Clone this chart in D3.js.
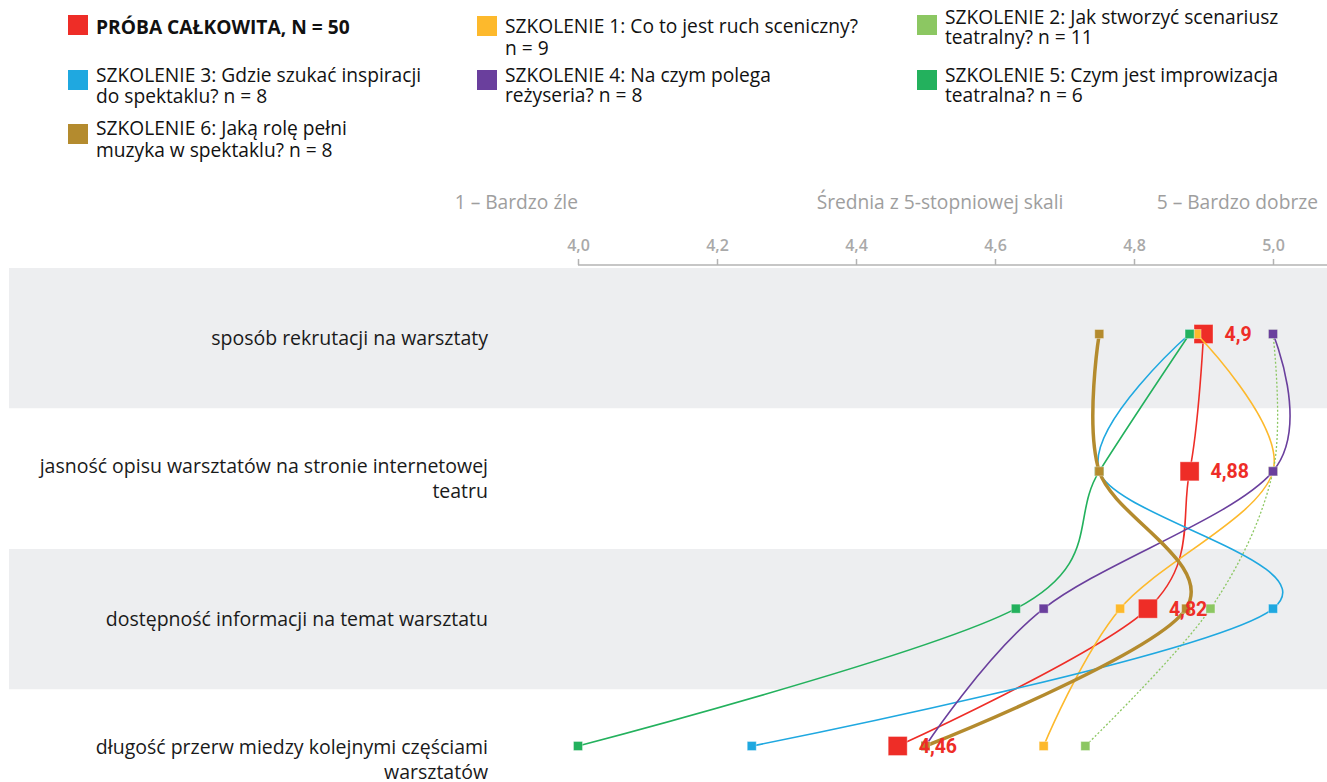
<!DOCTYPE html>
<html>
<head>
<meta charset="utf-8">
<script src="https://cdn.jsdelivr.net/npm/d3@7"></script>
<style>
  body { margin: 0; background: #fff; }
  svg { display: block; font-family: "Open Sans", sans-serif; }
</style>
</head>
<body>
<div id="chart"></div>
<script>
// rows of the chart (label lines kept as they are broken in the original)
var categories = [
  ["sposób rekrutacji na warsztaty"],
  ["jasność opisu warsztatów na stronie internetowej", "teatru"],
  ["dostępność informacji na temat warsztatu"],
  ["długość przerw miedzy kolejnymi częściami", "warsztatów"]
];

var seriesIds = ["total", "s1", "s2", "s3", "s4", "s5", "s6"];
var seriesLabels = [
  ["PRÓBA CAŁKOWITA, N = 50"],
  ["SZKOLENIE 1: Co to jest ruch sceniczny?", "n = 9"],
  ["SZKOLENIE 2: Jak stworzyć scenariusz", "teatralny? n = 11"],
  ["SZKOLENIE 3: Gdzie szukać inspiracji", "do spektaklu? n = 8"],
  ["SZKOLENIE 4: Na czym polega", "reżyseria? n = 8"],
  ["SZKOLENIE 5: Czym jest improwizacja", "teatralna? n = 6"],
  ["SZKOLENIE 6: Jaką rolę pełni", "muzyka w spektaklu? n = 8"]
];

var total = [4.9, 4.88, 4.82, 4.46];
var s1 = [4.89, 5.0, 4.78, 4.67];
var s2 = [5.0, 5.0, 4.91, 4.73];
var s3 = [4.88, 4.75, 5.0, 4.25];
var s4 = [5.0, 5.0, 4.67, 4.5];
var s5 = [4.88, 4.75, 4.63, 4.0];
var s6 = [4.75, 4.75, 4.875, 4.5];

var tickValues = [4.0, 4.2, 4.4, 4.6, 4.8, 5.0];
var scaleLabels = ["1 – Bardzo źle", "Średnia z 5-stopniowej skali", "5 – Bardzo dobrze"];

var width = 1327, height = 782;

var colors = {
  total: "#ee2d27", s1: "#fdb92c", s2: "#8cc762", s3: "#1fa8e0",
  s4: "#6a3f9d", s5: "#23b15d", s6: "#b48b2e"
};

// legend placement: square x, square top, first baseline, line step
var legendPos = [
  [68, 15, 34, 21], [477, 16, 33, 22], [917, 15, 24, 20],
  [68, 70, 82, 21], [477, 70, 82, 20], [917, 70, 82, 20],
  [68, 124, 135, 22]
];

var values = [total, s1, s2, s3, s4, s5, s6];
var data = seriesIds.map(function(id, i) {
  return {id: id, label: seriesLabels[i], values: values[i]};
});

var svg = d3.select("#chart").append("svg")
  .attr("width", width)
  .attr("height", height);

var x = d3.scaleLinear()
  .domain([4, 5])
  .range([578, 1273]);

var rowKeys = categories.map(function(d) { return d.join(" "); });

var y = d3.scalePoint()
  .domain(rowKeys)
  .range([334, 746]);

var band = d3.scaleBand()
  .domain(rowKeys)
  .range([268, 830]);

var pl = d3.formatLocale({decimal: ",", thousands: " ", grouping: [3], currency: ["", " zł"]});
var tickFmt = pl.format(".1f");
var valFmt = pl.format("~g");

// background bands
svg.append("g").selectAll("rect")
  .data(rowKeys)
  .enter().append("rect")
  .attr("x", 9)
  .attr("y", function(d) { return band(d); })
  .attr("width", width - 9)
  .attr("height", band.bandwidth())
  .attr("fill", function(d, i) { return i % 2 === 0 ? "#edeef0" : "#fff"; });

// row labels
var rowText = svg.append("g").selectAll("text")
  .data(categories)
  .enter().append("text")
  .attr("text-anchor", "end")
  .style("font-size", "19.5px")
  .attr("fill", "#1a1a1a");

rowText.selectAll("tspan")
  .data(function(d, i) {
    var c = band(rowKeys[i]) + band.bandwidth() / 2;
    return d.map(function(t, j) { return {t: t, y: c + 7 + (j - (d.length - 1) / 2) * 25}; });
  })
  .enter().append("tspan")
  .attr("x", 488)
  .attr("y", function(d) { return d.y; })
  .text(function(d) { return d.t; });

// axis
var axisG = svg.append("g")
  .attr("transform", "translate(0,265)")
  .call(d3.axisTop(x).tickValues(tickValues).tickSize(6).tickPadding(8).tickFormat(tickFmt));

axisG.select(".domain").remove();
axisG.selectAll(".tick line").attr("stroke", "#b3b3b3").attr("stroke-width", 1.5);
axisG.selectAll(".tick text")
  .attr("fill", "#a9a9a9")
  .style("font-family", "'Open Sans', sans-serif")
  .style("font-size", "16px")
  .style("font-weight", 600);

axisG.append("line")
  .attr("x1", x(4))
  .attr("x2", width)
  .attr("stroke", "#b3b3b3")
  .attr("stroke-width", 1.5);

var headerX = [x(4), 940, 1318];
var headerAnchor = ["end", "middle", "end"];
svg.append("g").selectAll("text")
  .data(scaleLabels)
  .enter().append("text")
  .attr("x", function(d, i) { return headerX[i]; })
  .attr("y", 209)
  .attr("text-anchor", function(d, i) { return headerAnchor[i]; })
  .attr("fill", "#9e9e9e")
  .style("font-size", "19.2px")
  .text(function(d) { return d; });

// legend
var legend = svg.append("g").selectAll("g")
  .data(data)
  .enter().append("g");

legend.append("rect")
  .attr("x", function(d, i) { return legendPos[i][0]; })
  .attr("y", function(d, i) { return legendPos[i][1]; })
  .attr("width", 20)
  .attr("height", 20)
  .attr("fill", function(d) { return colors[d.id]; });

legend.append("text")
  .style("font-size", "19.2px")
  .style("font-weight", function(d) { return d.id === "total" ? 700 : 400; })
  .attr("fill", "#111")
  .selectAll("tspan")
  .data(function(d, i) {
    var p = legendPos[i];
    return d.label.map(function(t, j) { return {t: t, x: p[0] + 28, y: p[2] + j * p[3]}; });
  })
  .enter().append("tspan")
  .attr("x", function(d) { return d.x; })
  .attr("y", function(d) { return d.y; })
  .text(function(d) { return d.t; });

// lines
var line = d3.line()
  .x(function(d) { return x(d); })
  .y(function(d, i) { return y(rowKeys[i]); })
  .curve(d3.curveCardinal);

var groups = svg.append("g").selectAll(".series")
  .data(data)
  .enter().append("g")
  .attr("class", "series");

groups.append("path")
  .attr("d", function(d) { return line(d.values); })
  .attr("fill", "none")
  .attr("stroke", function(d) { return colors[d.id]; })
  .attr("stroke-width", function(d) { return d.id === "s6" ? 3.5 : (d.id === "s2" ? 1.3 : 1.6); })
  .attr("stroke-dasharray", function(d) { return d.id === "s2" ? "2,2" : null; });

groups.selectAll("rect")
  .data(function(d) {
    var s = d.id === "total" ? 19 : 9;
    return d.values.map(function(v, i) { return {v: v, row: rowKeys[i], s: s, c: colors[d.id]}; });
  })
  .enter().append("rect")
  .attr("x", function(d) { return x(d.v) - d.s / 2; })
  .attr("y", function(d) { return y(d.row) - d.s / 2; })
  .attr("width", function(d) { return d.s; })
  .attr("height", function(d) { return d.s; })
  .attr("fill", function(d) { return d.c; })
  .attr("stroke", "#fff")
  .attr("stroke-opacity", 0.35)
  .attr("stroke-width", 1);

// value labels of the total sample
svg.append("g").selectAll("text")
  .data(total)
  .enter().append("text")
  .attr("x", function(d) { return x(d) + 21; })
  .attr("y", function(d, i) { return y(rowKeys[i]); })
  .attr("dy", "0.36em")
  .attr("fill", colors.total)
  .style("font-family", "Roboto, sans-serif")
  .style("font-size", "19.5px")
  .style("font-weight", 700)
  .text(function(d) { return valFmt(d); });
</script>
</body>
</html>
